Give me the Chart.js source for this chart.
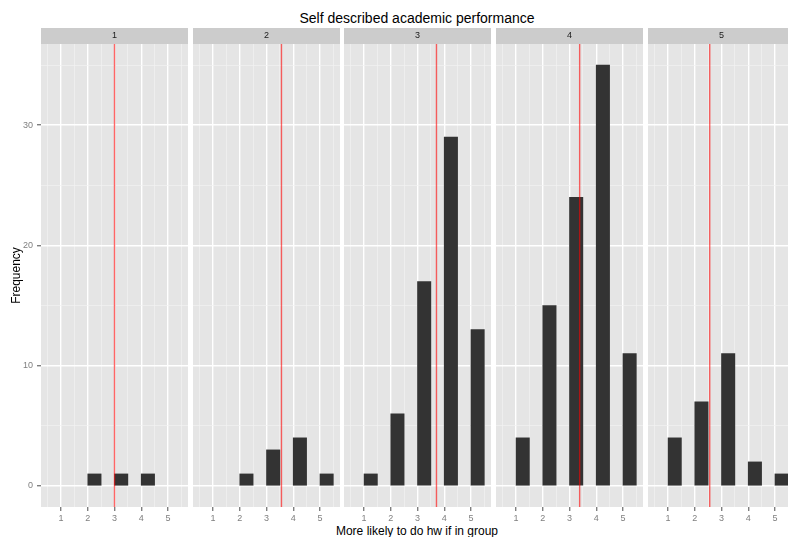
<!DOCTYPE html>
<html>
<head>
<meta charset="utf-8">
<title>Self described academic performance</title>
<script src="https://cdn.jsdelivr.net/npm/chart.js@4.4.1/dist/chart.umd.min.js"></script>
<style>
  html, body { margin: 0; padding: 0; background: #fff; }
  body { width: 788px; height: 537px; position: relative; overflow: hidden; font-family: "Liberation Sans", Arial, sans-serif; }
  canvas { position: absolute; top: 28px; }
  .title { position: absolute; left: 0; width: 834px; top: 9px; line-height: 18px; text-align: center; font-size: 14px; color: #000; }
  .xlabel { position: absolute; left: 0; width: 834px; top: 524px; line-height: 14px; text-align: center; font-size: 12px; color: #000; }
</style>
</head>
<body>
<div class="title">Self described academic performance</div>
<div class="xlabel">More likely to do hw if in group</div>

<script>
// answers on the 1-5 scale, one facet per self described performance group
const categories = [1, 2, 3, 4, 5];
const groups = ['1', '2', '3', '4', '5'];

const counts1 = [0, 1, 1, 1, 0];
const counts2 = [0, 1, 3, 4, 1];
const counts3 = [1, 6, 17, 29, 13];
const counts4 = [4, 15, 24, 35, 11];
const counts5 = [4, 7, 11, 2, 1];
const groupCounts = [counts1, counts2, counts3, counts4, counts5];

// red line = group mean
const groupMeans = [3.0, 3.56, 3.71, 3.38, 2.56];

// axes (major + minor grid like ggplot)
const xTickLabels = [1, 2, 3, 4, 5];
const xGridValues = [0.5, 1, 1.5, 2, 2.5, 3, 3.5, 4, 4.5, 5, 5.5];
const yTickLabels = [0, 10, 20, 30];
const yGridValues = [0, 5, 10, 15, 20, 25, 30, 35];
const xMin = 0.25, xMax = 5.75;
const yMin = -1.75, yMax = 36.75;
const binWidth = 0.5;

Chart.defaults.font.family = '"Liberation Sans", Arial, sans-serif';

// panel background + facet strip
const facetPlugin = {
    id: 'facet',
    beforeDraw(chart, args, opts) {
        const { ctx, chartArea } = chart;
        ctx.save();
        ctx.fillStyle = '#e5e5e5';
        ctx.fillRect(chartArea.left, chartArea.top, chartArea.right - chartArea.left, chartArea.bottom - chartArea.top);
        ctx.fillStyle = '#cccccc';
        ctx.fillRect(chartArea.left, chartArea.top - 16, chartArea.right - chartArea.left, 16);
        ctx.fillStyle = '#1a1a1a';
        ctx.font = '9px "Liberation Sans", Arial, sans-serif';
        ctx.textAlign = 'center';
        ctx.textBaseline = 'middle';
        ctx.fillText(opts.label, (chartArea.left + chartArea.right) / 2, chartArea.top - 8);
        ctx.restore();
    }
};

const isMajor = (list, v) => list.includes(v);

function makePanel(i) {
    const first = i === 0;
    const panelLeft = Math.round(41 + i * 151.65);
    const canvas = document.createElement('canvas');
    canvas.width = first ? 188 : 147;
    canvas.height = 509;
    canvas.style.left = (first ? 0 : panelLeft) + 'px';
    document.body.appendChild(canvas);

    new Chart(canvas.getContext('2d'), {
        type: 'bar',
        data: {
            datasets: [
                {
                    type: 'line',
                    data: [{ x: groupMeans[i], y: yMin }, { x: groupMeans[i], y: yMax }],
                    borderColor: 'rgba(255, 0, 0, 0.6)',
                    borderWidth: 1.4,
                    pointRadius: 0,
                    fill: false,
                    order: 0
                },
                {
                    type: 'bar',
                    data: categories.map((c, k) => ({ x: c + binWidth / 2, y: groupCounts[i][k] })),
                    // empty bins draw nothing
                    backgroundColor: (c) => (c.raw && c.raw.y > 0) ? '#333333' : 'rgba(0,0,0,0)',
                    borderWidth: 0,
                    barPercentage: 1,
                    categoryPercentage: 1,
                    order: 1
                }
            ]
        },
        options: {
            responsive: false,
            animation: false,
            layout: { padding: { top: 16, left: 0, right: 0, bottom: 0 } },
            plugins: {
                legend: { display: false },
                tooltip: { enabled: false },
                facet: { label: groups[i] }
            },
            scales: {
                x: {
                    type: 'linear',
                    min: xMin,
                    max: xMax,
                    offset: false,
                    afterBuildTicks: (scale) => { scale.ticks = xGridValues.map(v => ({ value: v })); },
                    afterFit: (scale) => { scale.height = 30; },
                    border: { display: false },
                    grid: {
                        offset: false,
                        color: (c) => isMajor(xTickLabels, c.tick.value) ? '#ffffff' : '#f2f2f2',
                        lineWidth: (c) => isMajor(xTickLabels, c.tick.value) ? 1.4 : 0.7,
                        tickColor: (c) => isMajor(xTickLabels, c.tick.value) ? '#7f7f7f' : 'rgba(0,0,0,0)',
                        tickLength: 4
                    },
                    ticks: {
                        autoSkip: false,
                        maxRotation: 0,
                        padding: 2,
                        color: '#7f7f7f',
                        font: { size: 9 },
                        callback: (v) => isMajor(xTickLabels, v) ? String(v) : ''
                    }
                },
                y: {
                    min: yMin,
                    max: yMax,
                    afterBuildTicks: (scale) => { scale.ticks = yGridValues.map(v => ({ value: v })); },
                    afterFit: (scale) => { scale.width = first ? 41 : 0; },
                    border: { display: false },
                    title: {
                        display: first,
                        text: 'Frequency',
                        color: '#000',
                        font: { size: 12 },
                        padding: { top: 9, bottom: 0 }
                    },
                    grid: {
                        color: (c) => isMajor(yTickLabels, c.tick.value) ? '#ffffff' : '#f2f2f2',
                        lineWidth: (c) => isMajor(yTickLabels, c.tick.value) ? 1.4 : 0.7,
                        tickColor: (c) => isMajor(yTickLabels, c.tick.value) ? '#7f7f7f' : 'rgba(0,0,0,0)',
                        drawTicks: first,
                        tickLength: 4
                    },
                    ticks: {
                        display: first,
                        autoSkip: false,
                        padding: 4,
                        color: '#7f7f7f',
                        font: { size: 9 },
                        callback: (v) => isMajor(yTickLabels, v) ? String(v) : ''
                    }
                }
            }
        },
        plugins: [facetPlugin]
    });
}

groups.forEach((g, i) => makePanel(i));
</script>
</body>
</html>
